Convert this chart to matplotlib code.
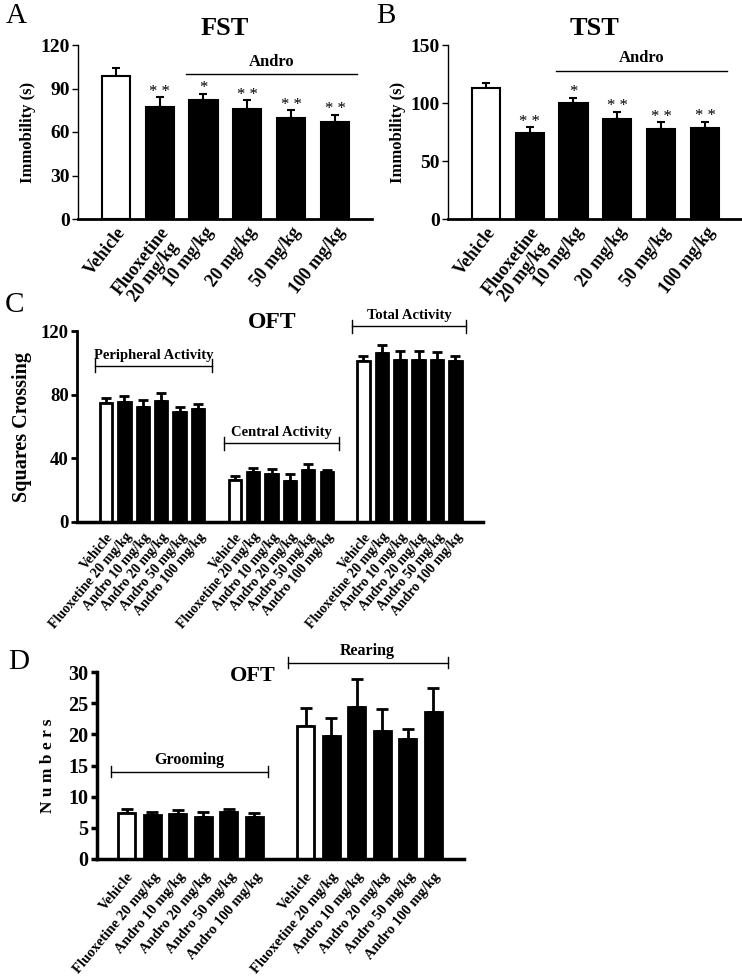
import numpy as np
import matplotlib
matplotlib.use('Agg')
import matplotlib.pyplot as plt

plt.rcParams['font.family'] = ['Liberation Serif', 'DejaVu Serif']
plt.rcParams['font.weight'] = 'bold'

# Data
groups_ab = ['Vehicle', 'Fluoxetine\n20 mg/kg', '10 mg/kg', '20 mg/kg', '50 mg/kg', '100 mg/kg']
groups_cd = ['Vehicle', 'Fluoxetine 20 mg/kg', 'Andro 10 mg/kg', 'Andro 20 mg/kg',
             'Andro 50 mg/kg', 'Andro 100 mg/kg']
signif = ['', '* *', '*', '* *', '* *', '* *']

fst_means = [98.5, 77, 82, 76, 70, 67]
fst_err = [5.5, 7, 4.5, 6, 5, 5]
tst_means = [113, 74, 100, 86, 78, 78.5]
tst_err = [4, 5, 4.5, 6.5, 5.5, 5.5]

per_means = [75, 75.6, 72.4, 76.2, 68.9, 70.8]
per_err = [2.7, 3.5, 4.2, 4.6, 3.5, 3.3]
cen_means = [26.3, 31.1, 30.3, 25.7, 32.4, 31.1]
cen_err = [2.7, 2.7, 3.1, 4.6, 4.1, 1.5]
tot_means = [101, 106.3, 102, 102, 101.5, 101.3]
tot_err = [3.6, 4.7, 5.3, 5.3, 5.2, 2.9]

groom_means = [7.4, 7.0, 7.2, 6.8, 7.6, 6.8]
groom_err = [0.6, 0.6, 0.6, 0.7, 0.5, 0.55]
rear_means = [21.4, 19.7, 24.4, 20.6, 19.3, 23.6]
rear_err = [2.8, 2.9, 4.5, 3.5, 1.6, 3.9]

W, H = 742, 976


def px_axes(fig, left, right, top, bottom):
    # axes placed from pixel edges
    return fig.add_axes([left / W, 1 - bottom / H, (right - left) / W, (bottom - top) / H])


def draw_bars(ax, x, means, errs, width, lw, capsize):
    colors = ['white'] + ['black'] * (len(means) - 1)
    ax.errorbar(x, means, yerr=[np.zeros(len(errs)), errs], fmt='none', ecolor='black',
                elinewidth=lw, capsize=capsize, capthick=lw, zorder=1)
    ax.bar(x, means, width, color=colors, edgecolor='black', linewidth=lw, zorder=2)


def style_axes(ax, ylw, xlw, yticks, tick_size):
    ax.spines['top'].set_visible(False)
    ax.spines['right'].set_visible(False)
    ax.spines['left'].set_linewidth(ylw)
    ax.spines['bottom'].set_linewidth(xlw)
    ax.set_yticks(yticks)
    ax.set_ylim(yticks[0], yticks[-1])
    ax.tick_params(axis='y', length=4, width=ylw, labelsize=tick_size, pad=2)
    ax.tick_params(axis='x', length=0)


def bracket(ax, x0, x1, y, label, size, tick=0):
    ax.plot([x0, x1], [y, y], color='black', lw=1, clip_on=False)
    if tick:
        ax.plot([x0, x0], [y - tick, y + tick], color='black', lw=1, clip_on=False)
        ax.plot([x1, x1], [y - tick, y + tick], color='black', lw=1, clip_on=False)
    ax.text((x0 + x1) / 2, y + tick * 0.6, label, ha='center', va='bottom', fontsize=size,
            fontweight='bold', clip_on=False)


fig = plt.figure(figsize=(W / 100, H / 100), dpi=100)

# ---- A / B : FST and TST
x6 = np.arange(6)
panels = [
    ('A', 'FST', fst_means, fst_err, [0, 30, 60, 90, 120], 78, 372, 100),
    ('B', 'TST', tst_means, tst_err, [0, 50, 100, 150], 448, 742, 128),
]
for letter, title, means, errs, yt, left, right, andro_y in panels:
    ax = px_axes(fig, left, right, 45, 219)
    draw_bars(ax, x6, means, errs, 0.64, 1.5, 3)
    style_axes(ax, 1.0, 2.0, yt, 14)
    ax.set_xlim(-0.86, 5.84)
    ax.set_xticks(x6, groups_ab, rotation=52, ha='right', rotation_mode='anchor',
                  fontsize=13, fontweight='bold', multialignment='center', linespacing=0.95)
    ax.tick_params(axis='x', pad=4)
    ax.set_ylabel('Immobility (s)', fontsize=12, fontweight='bold', labelpad=3)
    for xi, m, e, s in zip(x6, means, errs, signif):
        if s:
            ax.annotate(s, (xi, m + e), xytext=(0, 4), textcoords='offset points',
                        ha='center', va='center', fontsize=12, fontweight='normal')
    ax.plot([1.6, 5.5], [andro_y, andro_y], color='black', lw=1, clip_on=False)
    ax.annotate('Andro', (3.55, andro_y), xytext=(0, 3), textcoords='offset points',
                ha='center', va='bottom', fontsize=12, fontweight='bold')
    ax.set_title(title, fontsize=19, fontweight='bold', pad=7)
    fig.text((left - 72) / W, 1 - 3 / H, letter, fontsize=21, fontweight='normal',
             ha='left', va='top')

# ---- C : OFT squares crossing
ax = px_axes(fig, 77, 483, 331, 522)
xc = [np.arange(6), np.arange(6) + 7, np.arange(6) + 14]
for x, m, e in zip(xc, [per_means, cen_means, tot_means], [per_err, cen_err, tot_err]):
    draw_bars(ax, x, m, e, 0.67, 2.0, 3.5)
style_axes(ax, 2.0, 2.5, [0, 40, 80, 120], 13.5)
ax.set_xlim(-1.58, 20.5)
ax.set_xticks(np.concatenate(xc), groups_cd * 3, rotation=50, ha='right',
              rotation_mode='anchor', fontsize=10, fontweight='bold')
ax.tick_params(axis='x', pad=6)
ax.set_ylabel('Squares Crossing', fontsize=14.5, fontweight='bold', labelpad=6)
bracket(ax, -0.6, 5.75, 98.3, 'Peripheral Activity', 10.5, tick=4)
bracket(ax, 6.4, 12.65, 49.5, 'Central Activity', 10.5, tick=4)
bracket(ax, 13.4, 19.6, 123, 'Total Activity', 10.5, tick=4)
fig.text(272 / W, 1 - 322 / H, 'OFT', fontsize=17, fontweight='bold', ha='center', va='center')
fig.text(5 / W, 1 - 292 / H, 'C', fontsize=21, fontweight='normal', ha='left', va='top')

# ---- D : OFT grooming / rearing
ax = px_axes(fig, 97, 464, 672, 859)
xd = [np.arange(6), np.arange(6) + 7]
for x, m, e in zip(xd, [groom_means, rear_means], [groom_err, rear_err]):
    draw_bars(ax, x, m, e, 0.67, 2.0, 4.5)
style_axes(ax, 2.5, 2.5, [0, 5, 10, 15, 20, 25, 30], 14.5)
ax.set_xlim(-1.16, 13.2)
ax.set_xticks(np.concatenate(xd), groups_cd * 2, rotation=50, ha='right',
              rotation_mode='anchor', fontsize=10.5, fontweight='bold')
ax.tick_params(axis='x', pad=8)
ax.set_ylabel('N u m b e r s', fontsize=12.5, fontweight='bold', labelpad=9)
bracket(ax, -0.62, 5.55, 14.0, 'Grooming', 11.5, tick=0.9)
bracket(ax, 6.3, 12.56, 31.5, 'Rearing', 11.5, tick=0.9)
ax.text(4.95, 29.3, 'OFT', fontsize=16, fontweight='bold', ha='center', va='center')
fig.text(8 / W, 1 - 649 / H, 'D', fontsize=21, fontweight='normal', ha='left', va='top')

fig.savefig('out.png', dpi=100)
